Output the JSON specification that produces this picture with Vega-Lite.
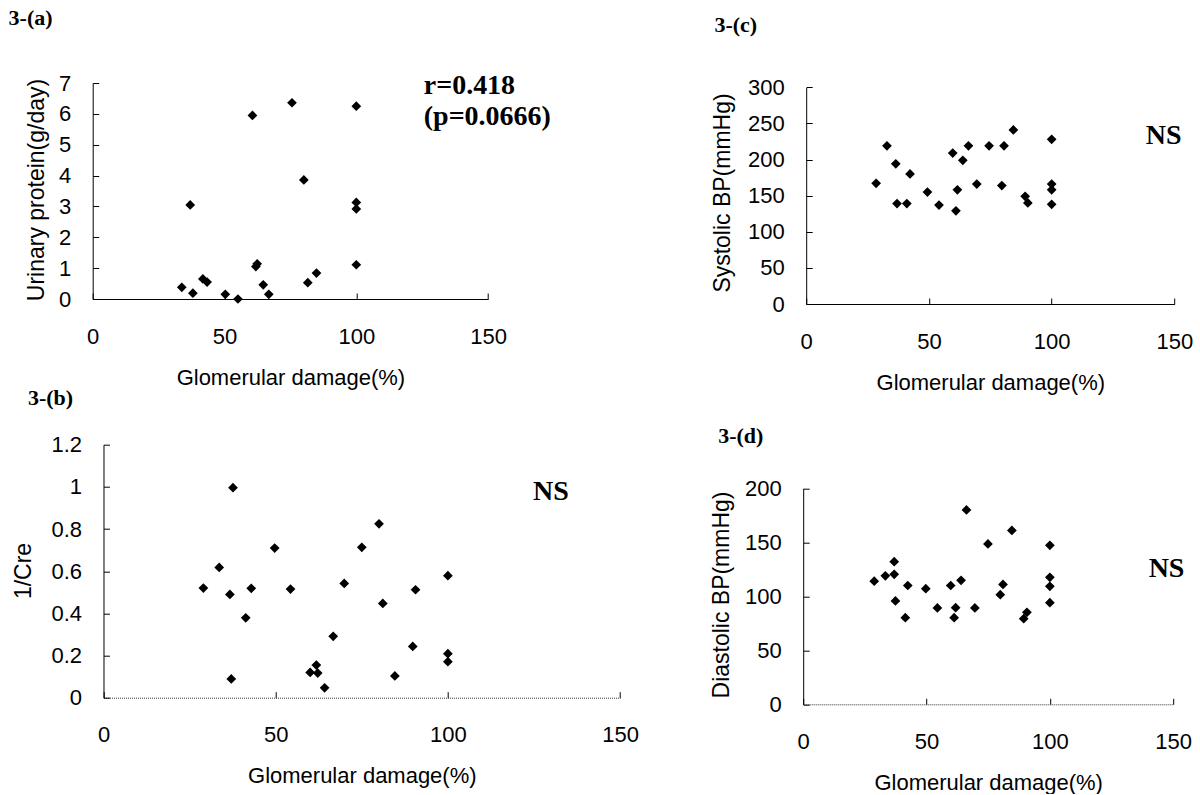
{
  "$schema": "https://vega.github.io/schema/vega-lite/v6.json",
  "padding": {"left": 7.7, "top": 7, "right": 5, "bottom": 0},
  "columns": 2,
  "bounds": "flush",
  "spacing": {"row": 140.7, "column": 182.5},
  "datasets": {
    "a": [
      {"damage": 33.8, "protein": 0.38}, {"damage": 38.0, "protein": 0.19}, {"damage": 37.0, "protein": 3.05},
      {"damage": 41.8, "protein": 0.65}, {"damage": 43.4, "protein": 0.55}, {"damage": 50.3, "protein": 0.15},
      {"damage": 55.1, "protein": 0.0}, {"damage": 60.6, "protein": 5.95}, {"damage": 61.9, "protein": 1.05},
      {"damage": 62.4, "protein": 1.14}, {"damage": 64.7, "protein": 0.46}, {"damage": 66.8, "protein": 0.15},
      {"damage": 75.6, "protein": 6.36}, {"damage": 80.1, "protein": 3.86}, {"damage": 81.6, "protein": 0.53},
      {"damage": 84.9, "protein": 0.84}, {"damage": 100, "protein": 6.25}, {"damage": 100, "protein": 3.13},
      {"damage": 100, "protein": 2.92}, {"damage": 100, "protein": 1.11}
    ],
    "b": [
      {"damage": 29.0, "inv_cre": 0.52}, {"damage": 33.6, "inv_cre": 0.618}, {"damage": 37.6, "inv_cre": 0.996},
      {"damage": 36.7, "inv_cre": 0.49}, {"damage": 37.1, "inv_cre": 0.089}, {"damage": 41.3, "inv_cre": 0.379},
      {"damage": 42.9, "inv_cre": 0.519}, {"damage": 49.7, "inv_cre": 0.71}, {"damage": 54.3, "inv_cre": 0.515},
      {"damage": 60.0, "inv_cre": 0.12}, {"damage": 61.8, "inv_cre": 0.155}, {"damage": 62.2, "inv_cre": 0.117},
      {"damage": 64.2, "inv_cre": 0.047}, {"damage": 66.7, "inv_cre": 0.291}, {"damage": 69.9, "inv_cre": 0.542},
      {"damage": 75.0, "inv_cre": 0.713}, {"damage": 80.0, "inv_cre": 0.825}, {"damage": 81.1, "inv_cre": 0.447},
      {"damage": 84.6, "inv_cre": 0.103}, {"damage": 89.8, "inv_cre": 0.243}, {"damage": 90.6, "inv_cre": 0.512},
      {"damage": 100, "inv_cre": 0.579}, {"damage": 100, "inv_cre": 0.209}, {"damage": 100, "inv_cre": 0.171}
    ],
    "c": [
      {"damage": 28.5, "sbp": 167}, {"damage": 32.9, "sbp": 219}, {"damage": 36.5, "sbp": 194},
      {"damage": 37.0, "sbp": 139}, {"damage": 41.0, "sbp": 139}, {"damage": 42.3, "sbp": 180},
      {"damage": 49.4, "sbp": 155}, {"damage": 54.1, "sbp": 137}, {"damage": 59.7, "sbp": 209},
      {"damage": 61.0, "sbp": 129}, {"damage": 61.6, "sbp": 158}, {"damage": 63.8, "sbp": 199},
      {"damage": 66.1, "sbp": 219}, {"damage": 69.5, "sbp": 166}, {"damage": 74.5, "sbp": 219},
      {"damage": 79.7, "sbp": 164}, {"damage": 80.6, "sbp": 219}, {"damage": 84.4, "sbp": 241},
      {"damage": 89.2, "sbp": 149}, {"damage": 90.3, "sbp": 140}, {"damage": 100, "sbp": 228},
      {"damage": 100, "sbp": 166}, {"damage": 100, "sbp": 158}, {"damage": 100, "sbp": 138}
    ],
    "d": [
      {"damage": 28.8, "dbp": 114}, {"damage": 33.3, "dbp": 119}, {"damage": 36.9, "dbp": 132},
      {"damage": 36.9, "dbp": 120.4}, {"damage": 37.4, "dbp": 95.7}, {"damage": 41.4, "dbp": 80.2},
      {"damage": 42.4, "dbp": 110}, {"damage": 49.7, "dbp": 107}, {"damage": 54.4, "dbp": 89.2},
      {"damage": 59.8, "dbp": 110}, {"damage": 61.2, "dbp": 80.2}, {"damage": 61.8, "dbp": 89.5},
      {"damage": 64.0, "dbp": 114.8}, {"damage": 66.2, "dbp": 180}, {"damage": 69.6, "dbp": 89.2},
      {"damage": 74.9, "dbp": 148.5}, {"damage": 79.9, "dbp": 101.5}, {"damage": 81.0, "dbp": 111},
      {"damage": 84.6, "dbp": 161}, {"damage": 89.4, "dbp": 79.3}, {"damage": 90.7, "dbp": 85.2},
      {"damage": 100, "dbp": 147.2}, {"damage": 100, "dbp": 117.6}, {"damage": 100, "dbp": 109.3},
      {"damage": 100, "dbp": 94.1}
    ]
  },
  "config": {
    "view": {"stroke": null},
    "axis": {
      "grid": false, "domainColor": "black", "tickColor": "black", "labelColor": "black", "titleColor": "black",
      "labelFont": "Liberation Sans", "labelFontSize": 22, "titleFont": "Liberation Sans", "titleFontSize": 22,
      "titleFontWeight": "normal", "tickSize": -6, "domainWidth": 1, "tickWidth": 1, "labelOverlap": false
    },
    "axisX": {"labelPadding": 33, "titleBaseline": "top", "titleY": 68, "labelFlush": false, "labelOverlap": false},
    "axisY": {"labelPadding": 28, "titleAngle": -90, "titleBaseline": "middle", "titleFontSize": 23, "labelOverlap": false},
    "title": {"font": "Liberation Serif", "fontSize": 22, "fontWeight": "bold", "color": "black", "anchor": "start", "frame": "group", "offset": 0}
  },
  "concat": [
    {
      "width": 395.4, "height": 216,
      "title": {"text": "3-(a)", "dx": -84.1, "dy": -38},
      "layer": [
        {
          "data": {"name": "a"},
          "mark": {"type": "point", "shape": "diamond", "filled": true, "size": 95, "color": "black", "opacity": 1},
          "encoding": {
            "x": {"field": "damage", "type": "quantitative", "scale": {"domain": [0, 150], "nice": false},
                  "axis": {"values": [0, 50, 100, 150], "labelOverlap": false, "title": "Glomerular damage(%)"}},
            "y": {"field": "protein", "type": "quantitative", "scale": {"domain": [0, 7], "nice": false},
                  "axis": {"values": [0, 1, 2, 3, 4, 5, 6, 7], "labelOverlap": false, "title": "Urinary protein(g/day)", "titleX": -56.4, "titleY": 106.5}}
          }
        },
        {
          "data": {"values": [{}]},
          "mark": {"type": "text", "font": "Liberation Serif", "fontSize": 28, "fontWeight": "bold", "align": "left", "baseline": "alphabetic", "lineBreak": "\n", "lineHeight": 31, "color": "black"},
          "encoding": {
            "x": {"datum": 125.6, "type": "quantitative",
                  "axis": {"values": [0, 50, 100, 150], "labelOverlap": false, "title": "Glomerular damage(%)"}},
            "y": {"datum": 6.64, "type": "quantitative",
                  "axis": {"values": [0, 1, 2, 3, 4, 5, 6, 7], "labelOverlap": false, "title": "Urinary protein(g/day)", "titleX": -56.4, "titleY": 106.5}},
            "text": {"value": "r=0.418\n(p=0.0666)"}
          }
        }
      ]
    },
    {
      "width": 371.2, "height": 221,
      "title": {"text": "3-(c)", "dx": -88.8, "dy": -35},
      "layer": [
        {
          "data": {"name": "c"},
          "mark": {"type": "point", "shape": "diamond", "filled": true, "size": 95, "color": "black", "opacity": 1},
          "encoding": {
            "x": {"field": "damage", "type": "quantitative", "scale": {"domain": [0, 150], "nice": false, "range": [3, 371.2]},
                  "axis": {"values": [0, 50, 100, 150], "labelOverlap": false, "title": "Glomerular damage(%)"}},
            "y": {"field": "sbp", "type": "quantitative", "scale": {"domain": [0, 300], "nice": false, "range": [221, 4.3]},
                  "axis": {"values": [0, 50, 100, 150, 200, 250, 300], "labelOverlap": false, "title": "Systolic BP(mmHg)", "offset": -3, "titleX": -83.2, "titleY": 109.5}}
          }
        },
        {
          "data": {"values": [{}]},
          "mark": {"type": "text", "font": "Liberation Serif", "fontSize": 28, "fontWeight": "bold", "align": "center", "baseline": "alphabetic", "color": "black"},
          "encoding": {
            "x": {"datum": 145.6, "type": "quantitative",
                  "axis": {"values": [0, 50, 100, 150], "labelOverlap": false, "title": "Glomerular damage(%)"}},
            "y": {"datum": 221.5, "type": "quantitative",
                  "axis": {"values": [0, 50, 100, 150, 200, 250, 300], "labelOverlap": false, "title": "Systolic BP(mmHg)", "offset": -3, "titleX": -83.2, "titleY": 109.5}},
            "text": {"value": "NS"}
          }
        }
      ]
    },
    {
      "width": 527.4, "height": 253,
      "title": {"text": "3-(b)", "dx": -64.8, "dy": -20},
      "layer": [
        {
          "data": {"name": "b"},
          "mark": {"type": "point", "shape": "diamond", "filled": true, "size": 95, "color": "black", "opacity": 1},
          "encoding": {
            "x": {"field": "damage", "type": "quantitative", "scale": {"domain": [0, 150], "nice": false, "range": [10.8, 527.4]},
                  "axis": {"values": [0, 50, 100, 150], "labelOverlap": false, "title": "Glomerular damage(%)", "domainDash": [1, 1], "domainColor": "#333"}},
            "y": {"field": "inv_cre", "type": "quantitative", "scale": {"domain": [0, 1.2], "nice": false},
                  "axis": {"values": [0, 0.2, 0.4, 0.6, 0.8, 1, 1.2], "labelOverlap": false, "format": "~g", "title": "1/Cre", "offset": -10.8, "titleX": -79.6, "titleY": 125.8}}
          }
        },
        {
          "data": {"values": [{}]},
          "mark": {"type": "text", "font": "Liberation Serif", "fontSize": 28, "fontWeight": "bold", "align": "center", "baseline": "alphabetic", "color": "black"},
          "encoding": {
            "x": {"datum": 129.9, "type": "quantitative",
                  "axis": {"values": [0, 50, 100, 150], "labelOverlap": false, "title": "Glomerular damage(%)", "domainDash": [1, 1], "domainColor": "#333"}},
            "y": {"datum": 0.938, "type": "quantitative",
                  "axis": {"values": [0, 0.2, 0.4, 0.6, 0.8, 1, 1.2], "labelOverlap": false, "format": "~g", "title": "1/Cre", "offset": -10.8, "titleX": -79.6, "titleY": 125.8}},
            "text": {"value": "NS"}
          }
        }
      ]
    },
    {
      "width": 370, "height": 259.6,
      "title": {"text": "3-(d)", "dx": -85, "dy": 7},
      "layer": [
        {
          "data": {"name": "d"},
          "mark": {"type": "point", "shape": "diamond", "filled": true, "size": 95, "color": "black", "opacity": 1},
          "encoding": {
            "x": {"field": "damage", "type": "quantitative", "scale": {"domain": [0, 150], "nice": false},
                  "axis": {"values": [0, 50, 100, 150], "labelOverlap": false, "title": "Glomerular damage(%)", "domainDash": [1, 1], "domainColor": "#333"}},
            "y": {"field": "dbp", "type": "quantitative", "scale": {"domain": [0, 200], "nice": false, "range": [259.6, 43.6]},
                  "axis": {"values": [0, 50, 100, 150, 200], "labelOverlap": false, "title": "Diastolic BP(mmHg)", "titleX": -82.1, "titleY": 149.8}}
          }
        },
        {
          "data": {"values": [{}]},
          "mark": {"type": "text", "font": "Liberation Serif", "fontSize": 28, "fontWeight": "bold", "align": "center", "baseline": "alphabetic", "color": "black"},
          "encoding": {
            "x": {"datum": 147.3, "type": "quantitative",
                  "axis": {"values": [0, 50, 100, 150], "labelOverlap": false, "title": "Glomerular damage(%)", "domainDash": [1, 1], "domainColor": "#333"}},
            "y": {"datum": 117.9, "type": "quantitative",
                  "axis": {"values": [0, 50, 100, 150, 200], "labelOverlap": false, "title": "Diastolic BP(mmHg)", "titleX": -82.1, "titleY": 149.8}},
            "text": {"value": "NS"}
          }
        }
      ]
    }
  ]
}
